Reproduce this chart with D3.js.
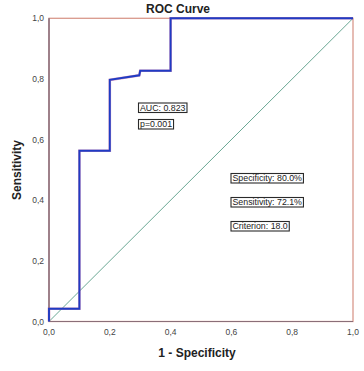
<!DOCTYPE html>
<html><head><meta charset="utf-8">
<script src="https://cdn.jsdelivr.net/npm/d3@7"></script>
<style>body{margin:0;background:#fff}svg{display:block}text{font-family:"Liberation Sans",Arial,sans-serif}</style>
</head><body>
<svg id="c" width="364" height="371"></svg>
<script>
const fpr = [0, 0, 0.1, 0.1, 0.2, 0.2, 0.297, 0.3, 0.4, 0.4, 1.0];
const tpr = [0, 0.042, 0.042, 0.563, 0.563, 0.797, 0.812, 0.827, 0.827, 1.0, 1.0];
const tickVals = [0, 0.2, 0.4, 0.6, 0.8, 1.0];
const tickLabels = ["0,0", "0,2", "0,4", "0,6", "0,8", "1,0"];
const statsLeft = ["AUC: 0.823", "p=0.001"];
const statsRight = ["Specificity: 80.0%", "Sensitivity: 72.1%", "Criterion: 18.0"];

const svg = d3.select("#c");
const x = d3.scaleLinear().domain([0, 1]).range([49, 353]);
const y = d3.scaleLinear().domain([0, 1]).range([321.5, 18.3]);

// frame
svg.append("rect").attr("x", x(0)).attr("y", y(1)).attr("width", x(1) - x(0)).attr("height", y(0) - y(1))
  .attr("fill", "#fff").attr("stroke", "#d9998c").attr("stroke-width", 1.3);
svg.append("line").attr("x1", x(0)).attr("x2", x(0)).attr("y1", y(0)).attr("y2", y(1)).attr("stroke", "#6e5a6e").attr("stroke-width", 1.2);
svg.append("line").attr("x1", x(0)).attr("x2", x(1)).attr("y1", y(0)).attr("y2", y(0)).attr("stroke", "#8a6e78").attr("stroke-width", 1.2);

// diagonal
svg.append("line").attr("x1", x(0)).attr("y1", y(0)).attr("x2", x(1)).attr("y2", y(1))
  .attr("stroke", "#6aa894").attr("stroke-width", 1);

// ROC curve
const pts = fpr.map((d, i) => [d, tpr[i]]);
const line = d3.line().x(d => x(d[0])).y(d => y(d[1]));
svg.append("path").attr("d", line(pts)).attr("fill", "none").attr("stroke", "#c05a9a").attr("stroke-width", 2.6).attr("stroke-opacity", 0.6);
svg.append("path").attr("d", line(pts)).attr("fill", "none").attr("stroke", "#1f3cc4").attr("stroke-width", 1.9);

// axes labels
svg.selectAll(".xt").data(tickVals).join("text").attr("x", d => x(d)).attr("y", 335)
  .attr("text-anchor", "middle").attr("font-size", 8.5).attr("fill", "#444").text((d, i) => tickLabels[i]);
svg.selectAll(".yt").data(tickVals).join("text").attr("x", 44).attr("y", d => y(d) + 3)
  .attr("text-anchor", "end").attr("font-size", 8.5).attr("fill", "#444").text((d, i) => tickLabels[i]);

svg.append("text").attr("x", 178).attr("y", 13).attr("text-anchor", "middle").attr("font-size", 12).attr("font-weight", "bold").attr("fill", "#222").text("ROC Curve");
svg.append("text").attr("x", 197).attr("y", 357).attr("text-anchor", "middle").attr("font-size", 12).attr("font-weight", "bold").attr("fill", "#222").text("1 - Specificity");
svg.append("text").attr("transform", "translate(21,170) rotate(-90)").attr("text-anchor", "middle").attr("font-size", 12).attr("font-weight", "bold").attr("fill", "#222").text("Sensitivity");

// stat boxes
function box(txt, bx, by) {
  const t = svg.append("text").attr("x", bx + 1.5).attr("y", by + 7.8).attr("font-size", 8.8).attr("fill", "#222").text(txt);
  const w = t.node().getComputedTextLength();
  svg.insert("rect", "text:last-of-type").attr("x", bx).attr("y", by).attr("width", w + 3).attr("height", 9.5)
    .attr("fill", "#fff").attr("stroke", "#2a2a2a").attr("stroke-width", 1.1);
  t.raise();
}
statsLeft.forEach((s, i) => box(s, 138.5, 103 + i * 16.5));
statsRight.forEach((s, i) => box(s, 231, 173.5 + i * 24));
</script>
</body></html>
